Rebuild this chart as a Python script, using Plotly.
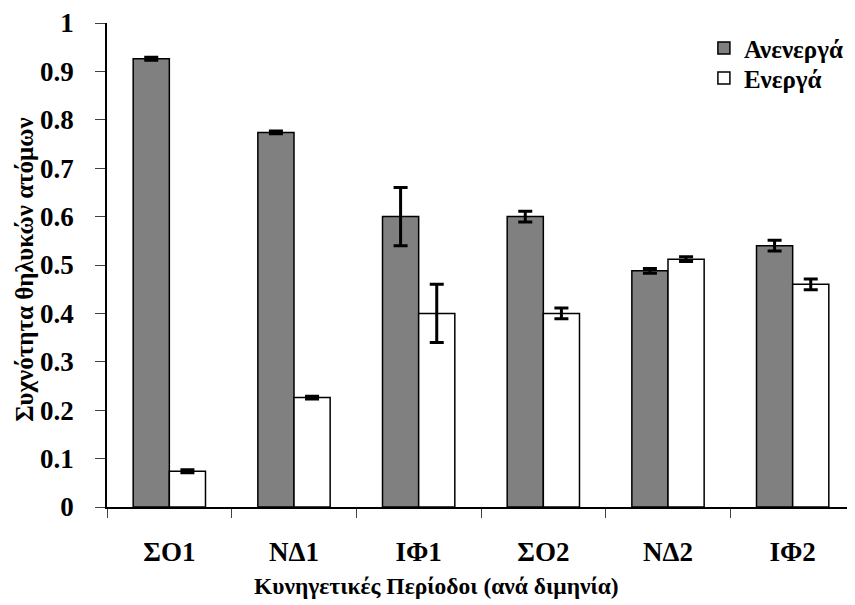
import plotly.graph_objects as go

categories = ["ΣΟ1", "ΝΔ1", "ΙΦ1", "ΣΟ2", "ΝΔ2", "ΙΦ2"]
inactive = [0.926, 0.774, 0.600, 0.600, 0.488, 0.540]
inactive_err = [0.003, 0.003, 0.060, 0.011, 0.005, 0.011]
active = [0.074, 0.226, 0.400, 0.400, 0.512, 0.460]
active_err = [0.003, 0.003, 0.060, 0.011, 0.005, 0.011]
series_names = ["Ανενεργά", "Ενεργά"]

x_title = "Κυνηγετικές Περίοδοι (ανά διμηνία)"
y_title = "Συχνότητα θηλυκών ατόμων"

font_family = "Liberation Serif"

fig = go.Figure()
fig.add_trace(go.Bar(
    x=categories, y=inactive, name="<b>" + series_names[0] + "</b>",
    marker=dict(color="#808080", line=dict(color="black", width=1.5)),
    error_y=dict(type="data", array=inactive_err, visible=True,
                 color="black", thickness=3, width=7),
    legend="legend",
))
fig.add_trace(go.Bar(
    x=categories, y=active, name="<b>" + series_names[1] + "</b>",
    marker=dict(color="white", line=dict(color="black", width=1.5)),
    error_y=dict(type="data", array=active_err, visible=True,
                 color="black", thickness=3, width=7),
    legend="legend2",
))

legend_font = dict(size=25, family=font_family, color="black", weight="bold")

fig.update_layout(
    width=847, height=597,
    margin=dict(l=99, r=0, t=15, b=98),
    paper_bgcolor="white", plot_bgcolor="white",
    barmode="group", bargap=0.42, bargroupgap=0,
    font=dict(family=font_family, color="black", size=22),
    showlegend=True,
    legend=dict(x=0.798, y=0.948, xanchor="left", yanchor="middle",
                font=legend_font, bgcolor="rgba(0,0,0,0)"),
    legend2=dict(x=0.798, y=0.886, xanchor="left", yanchor="middle",
                 font=legend_font, bgcolor="rgba(0,0,0,0)"),
    xaxis=dict(
        automargin=False,
        showline=True, linecolor="black", linewidth=1.5,
        ticks="outside", tickson="boundaries", ticklen=9, tickcolor="#404040",
        ticklabelstandoff=20,
        tickfont=dict(size=27, family=font_family, weight="bold"),
        showgrid=False,
    ),
    yaxis=dict(
        automargin=False,
        range=[0, 1], dtick=0.1,
        showline=True, linecolor="black", linewidth=1.5,
        ticks="outside", ticklen=10, tickcolor="#404040",
        ticklabelstandoff=16,
        tickfont=dict(size=27, family=font_family, weight="bold"),
        showgrid=False, zeroline=False,
    ),
    annotations=[
        dict(text="<b>" + x_title + "</b>", xref="paper", yref="paper",
             x=0.44, y=-0.163,
             xanchor="center", yanchor="middle", showarrow=False,
             font=dict(size=23.5, family=font_family, color="black", weight="bold")),
        dict(text="<b>" + y_title + "</b>", xref="paper", yref="paper",
             x=-0.1096, y=0.49,
             xanchor="center", yanchor="middle", showarrow=False, textangle=-90,
             font=dict(size=25, family=font_family, color="black", weight="bold")),
    ],
)

fig.write_html("out.html")
